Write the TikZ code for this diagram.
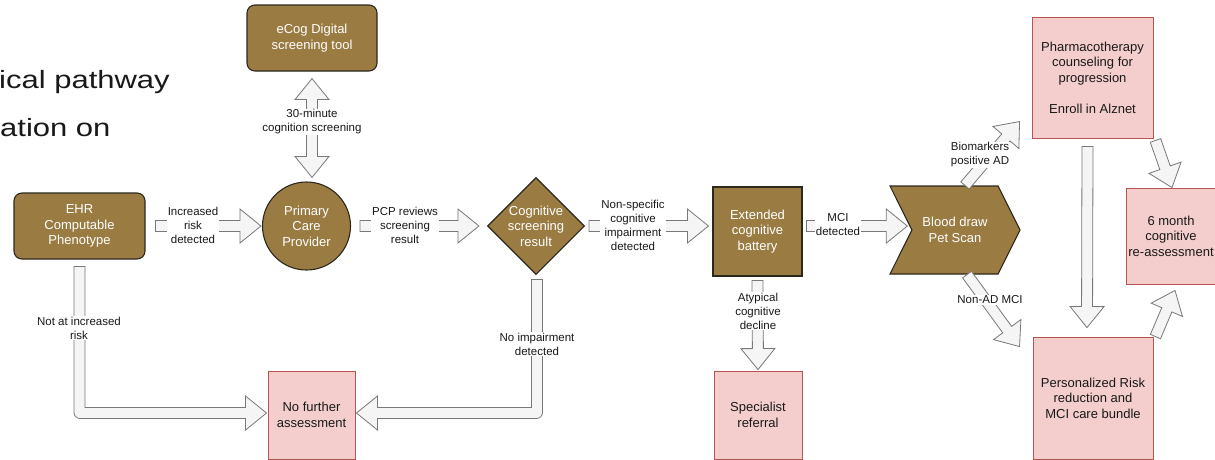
\documentclass[tikz,border=0pt]{standalone}
\usepackage{fontspec}
\setmainfont{Liberation Sans}
\usetikzlibrary{calc,shapes.geometric,shapes.symbols}
\definecolor{brownfill}{RGB}{154,124,67}
\definecolor{brownline}{RGB}{45,40,30}
\definecolor{pinkfill}{RGB}{244,206,204}
\definecolor{pinkline}{RGB}{184,84,80}
\definecolor{arrline}{RGB}{120,120,120}
\definecolor{arrfill}{RGB}{245,245,245}
\definecolor{txt}{RGB}{25,25,25}
\tikzset{
 bnode/.style={draw=brownline, fill=brownfill, line width=1.1pt, text=white, align=center, font=\fontsize{13}{15.5}\selectfont, inner sep=0pt},
 pnode/.style={draw=pinkline, fill=pinkfill, line width=0.9pt, text=txt, align=center, font=\fontsize{13}{15.5}\selectfont, inner sep=0pt},
 blockarrow/.style={draw=arrline, fill=arrfill, line width=0.8pt, line join=miter},
 lbl/.style={fill=white, align=center, font=\fontsize{11.5}{14}\selectfont, inner sep=1pt, text=txt},
 titletext/.style={anchor=base west, inner sep=0pt, font=\fontsize{25}{30}\selectfont, text=txt},
}
\newcommand{\flexarrow}[2]{%
 \coordinate (fas) at #1; \coordinate (fae) at #2;
 \coordinate (fah) at ($(fae)!21pt!(fas)$);
 \draw[blockarrow] ($(fas)!5.5pt!90:(fae)$) -- ($(fah)!5.5pt!90:(fae)$) -- ($(fah)!17pt!90:(fae)$) -- (fae) -- ($(fah)!17pt!-90:(fae)$) -- ($(fah)!5.5pt!-90:(fae)$) -- ($(fas)!5.5pt!-90:(fae)$) -- cycle;}
\newcommand{\flexdarrow}[2]{%
 \coordinate (fas) at #1; \coordinate (fae) at #2;
 \coordinate (fhs) at ($(fas)!21pt!(fae)$);
 \coordinate (fah) at ($(fae)!21pt!(fas)$);
 \draw[blockarrow] (fas) -- ($(fhs)!17pt!90:(fae)$) -- ($(fhs)!5.5pt!90:(fae)$) -- ($(fah)!5.5pt!90:(fae)$) -- ($(fah)!17pt!90:(fae)$) -- (fae) -- ($(fah)!17pt!-90:(fae)$) -- ($(fah)!5.5pt!-90:(fae)$) -- ($(fhs)!5.5pt!-90:(fae)$) -- ($(fhs)!17pt!-90:(fae)$) -- cycle;}
\begin{document}
\begin{tikzpicture}[x=1pt,y=-1pt]
\useasboundingbox (0,0) rectangle (1215,459);
\clip (0,0) rectangle (1215,459);
\fill[white] (0,0) rectangle (1215,459);

% slide text fragments
\node[titletext] (t1) at (-1,88) {\scalebox{1.24}[1]{ical pathway}};
\node[titletext] (t2) at (0,136) {\scalebox{1.24}[1]{ation on}};

% nodes
\node[bnode, rounded corners=8pt, minimum width=130, minimum height=66] (ecog) at (312,38) {eCog Digital\\screening tool};
\node[bnode, rounded corners=8pt, minimum width=131, minimum height=66] (ehr) at (79.5,226) {EHR\\Computable\\Phenotype};
\node[bnode, circle, minimum size=88] (pcp) at (306.5,226) {Primary\\Care\\Provider};
\node[bnode, diamond, aspect=1, minimum width=97, minimum height=97] (csr) at (536,226) {Cognitive\\screening\\result};
\node[bnode, rectangle, minimum width=89, minimum height=89] (bat) at (757.5,231.5) {Extended\\cognitive\\battery};
\node[bnode, signal, signal from=west, signal to=east, signal pointer angle=127, minimum width=130, minimum height=88] (blood) at (955,230) {Blood draw\\Pet Scan};
\node[pnode, minimum width=121, minimum height=121] (pharm) at (1092.5,77.5) {Pharmacotherapy\\counseling for\\progression\\[15.5pt]Enroll in Alznet};
\node[pnode, minimum width=90, minimum height=96] (six) at (1171,236) {6 month\\cognitive\\re-assessment};
\node[pnode, minimum width=120, minimum height=122] (pers) at (1093,398) {Personalized Risk\\reduction and\\MCI care bundle};
\node[pnode, minimum width=88, minimum height=88] (spec) at (758,415) {Specialist\\referral};
\node[pnode, minimum width=87, minimum height=88] (nofa) at (311.5,415) {No further\\assessment};

% connectors
\flexdarrow{($(ecog.south)+(0,7)$)}{($(ecog.south |- pcp.north)+(0,-4)$)}
\flexarrow{($(ehr.east)+(10,0)$)}{($(pcp.west)+(-1,0)$)}
\flexarrow{($(pcp.east)+(9,0)$)}{($(csr.west)+(-8,0)$)}
\flexarrow{($(csr.east)+(4,0)$)}{($(bat.west |- csr.east)+(-4,0)$)}
\flexarrow{($(bat.east |- csr.east)+(4,0)$)}{($(blood.west |- csr.east)+(-4,0)$)}
\flexarrow{($(blood.north)+(10,0)$)}{($(pharm.west)+(-12,44)$)}
\flexarrow{($(blood.south)+(12,0)$)}{($(pers.north west)+(-13,10)$)}
\flexarrow{($(pharm.south)+(-5,8)$)}{($(pers.north)+(-6,-9)$)}
\flexarrow{($(pharm.south east)+(2,2)$)}{($(six.north)+(1,0)$)}
\flexarrow{($(pers.north east)+(2,0)$)}{($(six.south)+(4,6)$)}
\flexarrow{($(bat.south)+(0,4)$)}{($(spec.north)+(0,-1)$)}

% bent connector: EHR -> No further assessment
\coordinate (ta) at ($(ehr.south)+(0,7)$);
\coordinate (ka) at ($(ehr.south |- nofa.west)+(0,-2)$);
\coordinate (ea) at ($(nofa.west)+(-1,-2)$);
\draw[blockarrow] ($(ta)+(-5.5,0)$) -- ($(ka)+(-5.5,-0.5)$) arc[start angle=180,end angle=270,radius=6pt]
 -- ($(ea)+(-21,5.5)$) -- ($(ea)+(-21,17)$) -- (ea) -- ($(ea)+(-21,-17)$) -- ($(ea)+(-21,-5.5)$)
 -- ($(ka)+(5.5,-5.5)$) -- ($(ta)+(5.5,0)$) -- cycle;

% bent connector: Cognitive screening result -> No further assessment
\coordinate (tb) at ($(csr.south)+(1,4.5)$);
\coordinate (kb) at ($(tb |- nofa.east)+(0,-2)$);
\coordinate (eb) at ($(nofa.east)+(1,-2)$);
\draw[blockarrow] ($(tb)+(5.5,0)$) -- ($(kb)+(5.5,-0.5)$) arc[start angle=0,end angle=-90,radius=6pt]
 -- ($(eb)+(21,5.5)$) -- ($(eb)+(21,17)$) -- (eb) -- ($(eb)+(21,-17)$) -- ($(eb)+(21,-5.5)$)
 -- ($(kb)+(-5.5,-5.5)$) -- ($(tb)+(-5.5,0)$) -- cycle;

% connector labels
\node[lbl] (l1) at (312,122) {30-minute\\cognition screening};
\node[lbl] (l2) at (193,225) {Increased\\risk\\detected};
\node[lbl] (l3) at (405,225) {PCP reviews\\screening\\result};
\node[lbl] (l4) at (633,225) {Non-specific\\cognitive\\impairment\\detected};
\node[lbl] (l5) at (838,225) {MCI\\detected};
\node[lbl] (l6) at (980,155) {Biomarkers\\positive AD};
\node[lbl] (l7) at (990,300) {Non-AD MCI};
\node[lbl] (l8) at (758,311) {Atypical\\cognitive\\decline};
\node[lbl] (l9) at (79,328) {Not at increased\\risk};
\node[lbl] (l10) at (537,344) {No impairment\\detected};
\end{tikzpicture}
\end{document}
